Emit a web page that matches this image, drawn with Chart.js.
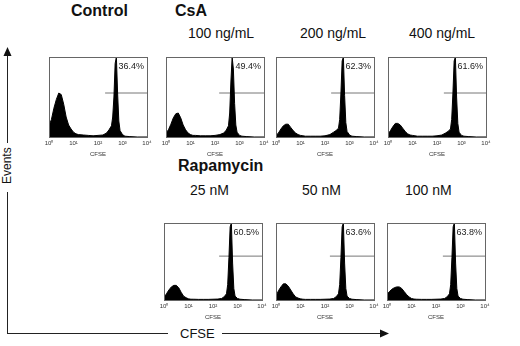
<!DOCTYPE html>
<html>
<head>
<meta charset="utf-8">
<script src="https://cdn.jsdelivr.net/npm/chart.js@4.4.1/dist/chart.umd.min.js"></script>
<style>
  body { margin: 0; background: #fff; }
  #fig { position: relative; width: 520px; height: 346px; overflow: hidden;
         font-family: "Liberation Sans", Arial, sans-serif; color: #111; }
  .t { position: absolute; white-space: nowrap; line-height: 1; }
  .b { font-weight: bold; font-size: 16px; }
  .d { font-size: 14px; }
  .p { position: absolute; }
</style>
</head>
<body>
<div id="fig">
  <div class="t b" style="left:71px;top:3px">Control</div>
  <div class="t b" style="left:175px;top:3px">CsA</div>
  <div class="t d" style="left:188px;top:26px">100 ng/mL</div>
  <div class="t d" style="left:300px;top:26px">200 ng/mL</div>
  <div class="t d" style="left:409px;top:26px">400 ng/mL</div>
  <div class="t b" style="left:178px;top:158px">Rapamycin</div>
  <div class="t d" style="left:190px;top:183px">25 nM</div>
  <div class="t d" style="left:302px;top:183px">50 nM</div>
  <div class="t d" style="left:405px;top:183px">100 nM</div>

  <svg width="520" height="346" style="position:absolute;left:0;top:0">
    <line x1="7.5" y1="55" x2="7.5" y2="143" stroke="#222" stroke-width="1"/>
    <line x1="7.5" y1="192" x2="7.5" y2="333.5" stroke="#222" stroke-width="1"/>
    <polygon points="7.5,47 3.5,56 11.5,56" fill="#111"/>
    <line x1="7" y1="333.5" x2="168" y2="333.5" stroke="#222" stroke-width="1"/>
    <line x1="222" y1="333.5" x2="382" y2="333.5" stroke="#222" stroke-width="1"/>
    <polygon points="389,333.5 380,329.5 380,337.5" fill="#111"/>
  </svg>
  <div class="t" style="left:-11px;top:160px;font-size:12px;transform:rotate(-90deg);width:36px;text-align:center">Events</div>
  <div class="t" style="left:180px;top:327px;font-size:13px">CFSE</div>
</div>

<script>
// log10 CFSE position of each histogram channel (decades)
const xBins = [0, 0.1, 0.2, 0.3, 0.4, 0.5, 0.6, 0.7, 0.8, 0.9, 1.0, 1.1, 1.2, 1.4, 1.6, 1.8, 2.0, 2.2,
               2.35, 2.45, 2.55, 2.6, 2.65, 2.7, 2.75, 2.8, 2.85, 2.9, 3.0, 3.1, 3.3, 3.6, 4.0];

// relative event counts (% of max) for each panel
const control = [14, 22, 36, 47, 55, 53, 41, 25, 15, 10, 6, 4, 3, 2.5, 2, 1.5, 2, 2.5, 5, 9, 14, 25, 50, 92, 100, 55, 20, 8, 3, 1, 0.5, 0, 0];
const csa100 = [5, 9, 16, 24, 29, 30, 24, 15, 9, 5, 3, 2, 2, 1.5, 1.5, 1.5, 2, 3, 5, 8, 14, 30, 70, 100, 85, 42, 15, 6, 2, 1, 0.5, 0, 0];
const csa200 = [2, 5, 10, 14, 16, 16, 12, 8, 5, 3, 2, 1.5, 1, 1, 1, 1, 1.5, 3, 6, 8, 11, 22, 55, 95, 100, 52, 18, 7, 2.5, 1, 0.5, 0, 0];
const csa400 = [3, 8, 13, 17, 17, 15, 11, 7, 4, 2.5, 2, 1.5, 1, 1, 1, 1, 1.5, 2.5, 5, 7, 10, 22, 55, 95, 100, 50, 17, 6, 2, 1, 0.5, 0, 0];
const rapa25 = [3, 8, 13, 17, 19, 19, 16, 10, 5, 3, 1.5, 1, 1, 0.8, 0.8, 0.8, 1, 1.2, 2, 4, 8, 20, 55, 95, 100, 48, 15, 5, 2, 1, 0.5, 0, 0];
const rapa50 = [5, 12, 17, 21, 21, 18, 13, 8, 4, 2.5, 1.5, 1, 0.8, 0.8, 0.8, 0.8, 1, 1.2, 2, 4, 8, 20, 55, 95, 100, 48, 15, 5, 2, 1, 0.5, 0, 0];
const rapa100 = [7, 11, 14, 16, 17, 17, 15, 11, 7, 4, 2, 1.2, 1, 0.8, 0.8, 0.8, 1, 1.2, 2, 4, 8, 20, 55, 95, 100, 48, 15, 5, 2, 1, 0.5, 0, 0];

const percents = ['36.4%', '49.4%', '62.3%', '61.6%', '60.5%', '63.6%', '63.8%'];
const gateStart = [2.29, 2.17, 2.25, 2.28, 2.25, 2.2, 2.28];
const gateLevel = [55, 55, 55, 55, 57, 57, 57];
const tickLabels = ['10\u2070', '10\u00b9', '10\u00b2', '10\u00b3', '10\u2074'];

const series = [control, csa100, csa200, csa400, rapa25, rapa50, rapa100];
// plot boxes: left, top, width, height
const boxes = [
    [49, 57, 98, 80], [166, 57, 98, 80], [276, 57, 98, 80], [388, 57, 98, 80],
    [164, 223, 98, 77], [276, 223, 98, 77], [387, 223, 98, 77]
];

const frame = {
    id: 'frame',
    afterDatasetsDraw(chart, args, opts) {
        const a = chart.chartArea;
        const c = chart.ctx;
        c.save();
        c.strokeStyle = '#666';
        c.lineWidth = 1;
        c.strokeRect(Math.round(a.left) + 0.5, Math.round(a.top) + 0.5, Math.round(a.width), Math.round(a.height));
        c.fillStyle = '#222';
        c.font = '9px "Liberation Sans", Arial, sans-serif';
        c.textAlign = 'right';
        c.textBaseline = 'top';
        c.fillText(opts.text, a.right - 3, a.top + 5);
        c.restore();
    }
};

const fig = document.getElementById('fig');
series.forEach((counts, i) => {
    const [bx, by, bw, bh] = boxes[i];
    const padL = 10, padR = 10, padT = 4, axisH = 21;
    const canvas = document.createElement('canvas');
    canvas.className = 'p';
    canvas.width = bw + padL + padR;
    canvas.height = bh + padT + axisH;
    canvas.style.left = (bx - padL) + 'px';
    canvas.style.top = (by - padT) + 'px';
    fig.appendChild(canvas);

    new Chart(canvas.getContext('2d'), {
        type: 'line',
        data: {
            datasets: [{
                data: xBins.map((x, k) => ({ x: x, y: counts[k] })),
                borderColor: '#000',
                backgroundColor: '#000',
                borderWidth: 1,
                fill: 'origin',
                pointRadius: 0,
                tension: 0
            }, {
                data: [{ x: gateStart[i], y: gateLevel[i] }, { x: 4, y: gateLevel[i] }],
                borderColor: '#777',
                borderWidth: 1,
                fill: false,
                pointRadius: 0
            }]
        },
        plugins: [frame],
        options: {
            responsive: false,
            animation: false,
            devicePixelRatio: 1,
            layout: { padding: { left: padL, right: padR, top: padT, bottom: 0 } },
            plugins: {
                legend: { display: false },
                tooltip: { enabled: false },
                frame: { text: percents[i] }
            },
            scales: {
                x: {
                    type: 'linear',
                    min: 0,
                    max: 4,
                    afterFit: (scale) => { scale.height = axisH; },
                    grid: { display: false, drawTicks: false },
                    border: { display: false },
                    ticks: {
                        stepSize: 1,
                        padding: 3,
                        maxRotation: 0,
                        color: '#333',
                        font: { size: 6, family: '"Liberation Sans", Arial, sans-serif' },
                        callback: (v) => tickLabels[v]
                    },
                    title: {
                        display: true,
                        text: 'CFSE',
                        color: '#333',
                        padding: 0,
                        font: { size: 6, family: '"Liberation Sans", Arial, sans-serif' }
                    }
                },
                y: {
                    display: false,
                    min: 0,
                    max: 100
                }
            }
        }
    });
});
</script>
</body>
</html>
